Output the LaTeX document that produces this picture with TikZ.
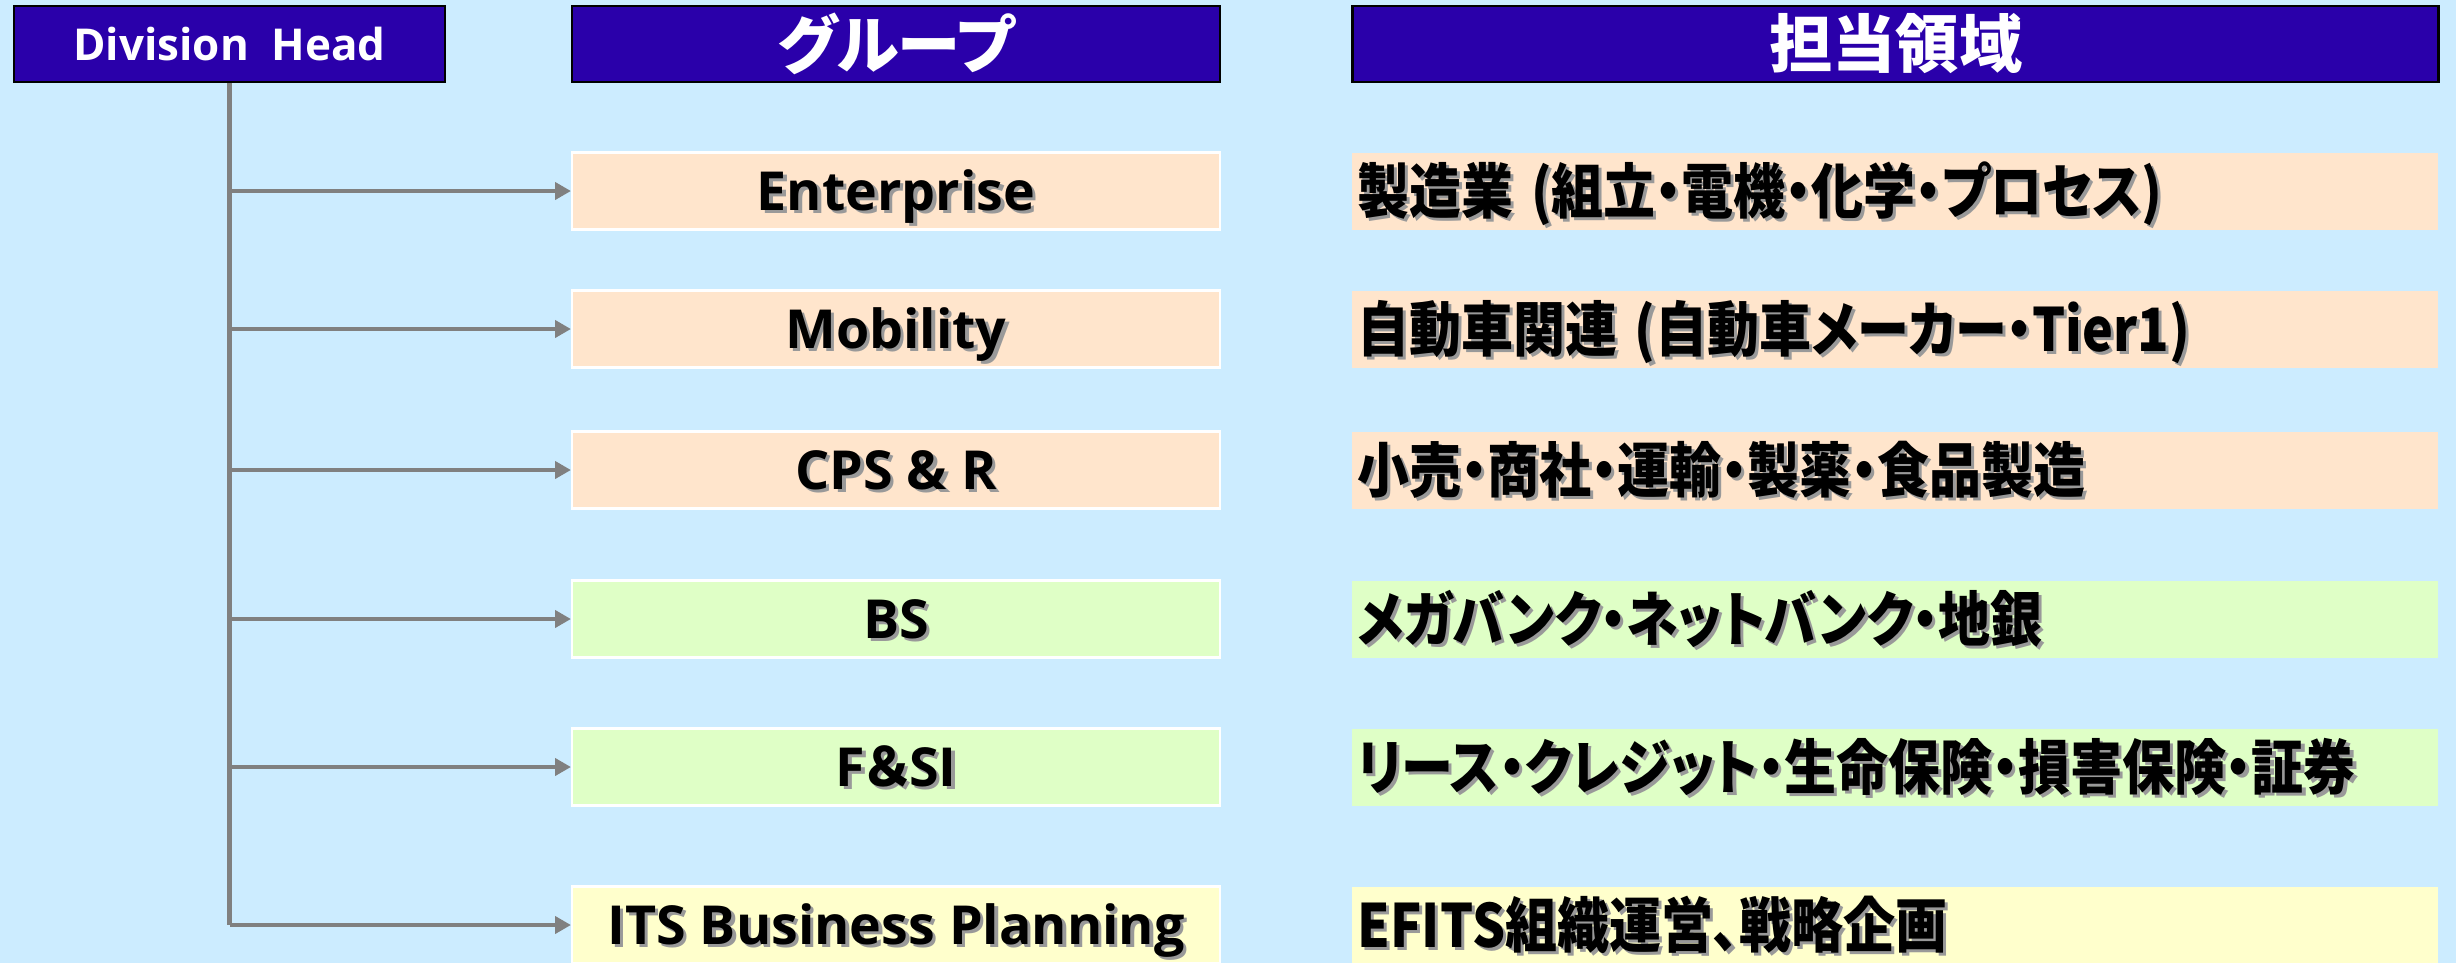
\documentclass[tikz,border=0pt]{standalone}
\usepackage{fontspec}
\usepackage{graphicx}
\setsansfont{Open Sans}
\newfontfamily\jpfont{Noto Sans CJK JP}[RawFeature=+palt]
\usetikzlibrary{%
	positioning,
	arrows.meta
}

\definecolor{bgblue}{HTML}{CCECFF}
\definecolor{headblue}{HTML}{2A00AA}
\definecolor{peach}{HTML}{FFE5CC}
\definecolor{lightgreen}{HTML}{DFFFC6}
\definecolor{lightyellow}{HTML}{FFFFCC}
\definecolor{linegray}{HTML}{808080}

% text with a soft drop shadow
\newcommand{\shadowed}[1]{\makebox[0pt][l]{\hspace{1pt}\raisebox{-1pt}{\color{black!40}#1}}#1}
% narrow japanese lines
\newcommand{\narrowjp}[1]{\scalebox{0.87}[1]{\shadowed{#1}}}

\begin{document}
\begin{tikzpicture}[
		x=0.1mm,y=-0.1mm,
		SHead/.style={draw=black,line width=0.8pt,fill=headblue,text=white,inner sep=0pt,minimum height=7.6mm},
		SGroup/.style={draw=white,line width=0.6pt,inner sep=0pt,minimum width=64.8mm,minimum height=7.7mm,text height=11pt,text depth=0pt,font=\fontsize{15.3pt}{17pt}\selectfont\sffamily\bfseries},
		SArea/.style={inner sep=0pt,inner xsep=0.6mm,text width=107.4mm,align=left,minimum height=7.7mm,text height=12.6pt,text depth=0pt,font=\fontsize{17pt}{19pt}\selectfont\jpfont\bfseries},
		branch/.style={draw=linegray,line width=1.2pt,-{Triangle[length=4.5pt,width=4.8pt]}},
		trunk/.style={draw=linegray,line width=1.2pt}
	]
	
	\fill[bgblue] (0,0) rectangle (2456,963);
	\useasboundingbox (0,0) rectangle (2456,963);
	
	%headers
	\node(divhead) [SHead, minimum width=43.1mm, font=\fontsize{12.5pt}{14pt}\selectfont\sffamily\bfseries] at (229.5,44) {Division\ \ Head};
	\node(grphead) [SHead, minimum width=64.8mm, font=\fontsize{18pt}{20pt}\selectfont\jpfont\bfseries] at (896,44) {グループ};
	\node(areahead) [SHead, minimum width=108.6mm, font=\fontsize{18pt}{20pt}\selectfont\jpfont\bfseries, right=13mm of grphead] {担当領域};
	
	%groups
	\node(grp1) [SGroup, fill=peach] at (896,191) {\shadowed{Enterprise}};
	\node(grp2) [SGroup, fill=peach] at (896,329) {\shadowed{Mobility}};
	\node(grp3) [SGroup, fill=peach] at (896,470) {\shadowed{CPS \& R}};
	\node(grp4) [SGroup, fill=lightgreen] at (896,619) {\shadowed{BS}};
	\node(grp5) [SGroup, fill=lightgreen] at (896,767) {\shadowed{F{\jpfont ＆}SI}};
	\node(grp6) [SGroup, fill=lightyellow] at (896,925) {\shadowed{ITS Business Planning}};
	
	%areas
	\node(area1) [SArea, fill=peach, right=13mm of grp1] {\narrowjp{製造業 (組立・電機・化学・プロセス)}};
	\node(area2) [SArea, fill=peach, right=13mm of grp2] {\narrowjp{自動車関連 (自動車メーカー・Tier1)}};
	\node(area3) [SArea, fill=peach, right=13mm of grp3] {\narrowjp{小売・商社・運輸・製薬・食品製造}};
	\node(area4) [SArea, fill=lightgreen, right=13mm of grp4] {\narrowjp{メガバンク・ネットバンク・地銀}};
	\node(area5) [SArea, fill=lightgreen, right=13mm of grp5] {\narrowjp{リース・クレジット・生命保険・損害保険・証券}};
	\node(area6) [SArea, fill=lightyellow, right=13mm of grp6] {\narrowjp{EFITS組織運営、戦略企画}};
	
	%connectors
	\draw [trunk] (divhead.south) -- (divhead.south |- grp6.west);
	\foreach \i in {1,...,6}
		\draw [branch] (divhead.south |- grp\i.west) -- (grp\i.west);
	
\end{tikzpicture}
\end{document}
